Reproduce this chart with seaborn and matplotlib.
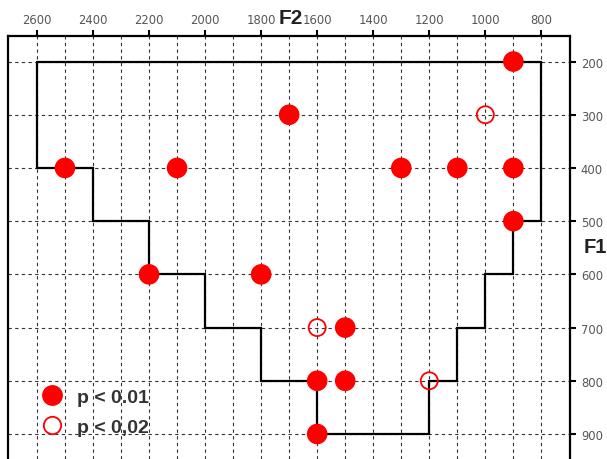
import numpy as np
import pandas as pd
import matplotlib.pyplot as plt
from matplotlib import font_manager
from matplotlib.font_manager import FontProperties
from matplotlib.lines import Line2D
import seaborn as sns

# significant points (F2, F1)
strong_f2 = [900, 1700, 2500, 2100, 1300, 1100, 900, 900, 2200, 1800, 1500, 1600, 1500, 1600]
strong_f1 = [200, 300, 400, 400, 400, 400, 400, 500, 600, 600, 700, 800, 800, 900]
weak_f2 = [1000, 1600, 1200]
weak_f1 = [300, 700, 800]

# outline of the region
poly_f2 = [2600, 800, 800, 900, 900, 1000, 1000, 1100, 1100, 1200, 1200, 1600, 1600,
           1800, 1800, 2000, 2000, 2200, 2200, 2400, 2400, 2600, 2600]
poly_f1 = [200, 200, 500, 500, 600, 600, 700, 700, 800, 800, 900, 900, 800,
           800, 700, 700, 600, 600, 500, 500, 400, 400, 200]

f2_ticks = list(range(800, 2601, 200))
f2_minor = list(range(900, 2600, 200))
f1_ticks = list(range(200, 901, 100))

sns.set_style("white")
plt.rcParams["font.family"] = ["Liberation Sans", "DejaVu Sans"]

# narrow face for tick numbers, if one is installed
narrow = None
for f in font_manager.fontManager.ttflist:
    if f.weight in (400, "normal", "regular") and f.style == "normal" and (
            "condensed" in str(f.stretch) or "Narrow" in f.name or "Condensed" in f.name):
        narrow = f.fname
        if "Sans" in f.name:
            break
if narrow:
    tick_font = FontProperties(fname=narrow, size=9.3)
else:
    tick_font = FontProperties(family="Liberation Sans", size=8.5)

df_strong = pd.DataFrame({"F2": strong_f2, "F1": strong_f1})
df_weak = pd.DataFrame({"F2": weak_f2, "F1": weak_f1})

fig = plt.figure(figsize=(6.07, 4.60), dpi=100)
ax = fig.add_axes([7.5 / 607, 0.0, (569.7 - 7.5) / 607, 1 - 37 / 460])

ax.plot(poly_f2, poly_f1, color="black", linewidth=1.6, zorder=3, solid_joinstyle="miter")

sns.scatterplot(data=df_strong, x="F2", y="F1", ax=ax, color="#ff0000", s=220,
                edgecolor="none", zorder=4, legend=False)
sns.scatterplot(data=df_weak, x="F2", y="F1", ax=ax, s=150, facecolor="none",
                edgecolor="#ff0000", linewidth=1.3, zorder=4, legend=False)

ax.set_xlim(2705, 699)
ax.set_ylim(947, 152)

ax.xaxis.tick_top()
ax.yaxis.tick_right()
ax.set_xticks(f2_ticks)
ax.set_xticks(f2_minor, minor=True)
ax.set_yticks(f1_ticks)
ax.tick_params(axis="x", which="major", direction="out", length=4, width=1.5,
               pad=3.5, labelcolor="#555555", color="black")
ax.tick_params(axis="x", which="minor", length=0)
ax.tick_params(axis="y", which="major", direction="out", length=4.5, width=1.5,
               pad=3.5, labelcolor="#555555", color="black")
for lab in ax.get_xticklabels() + ax.get_yticklabels():
    lab.set_fontproperties(tick_font)
ax.set_xlabel("")
ax.set_ylabel("")

ax.grid(True, which="both", color="#333333", linewidth=0.8, linestyle=(0, (3, 3)))
ax.set_axisbelow(True)

for side in ["left", "top", "right"]:
    ax.spines[side].set_visible(True)
    ax.spines[side].set_color("black")
    ax.spines[side].set_linewidth(1.6)
ax.spines["bottom"].set_visible(False)

fig.text(291 / 607, 1 - 19 / 460, "F2", fontsize=15, fontweight="bold",
         color="#222222", ha="center", va="center")
fig.text(595 / 607, 1 - 248 / 460, "F1", fontsize=14.5, fontweight="bold",
         color="#222222", ha="center", va="center")

handles = [
    Line2D([], [], marker="o", linestyle="none", markersize=15,
           markerfacecolor="#ff0000", markeredgecolor="none"),
    Line2D([], [], marker="o", linestyle="none", markersize=12.5,
           markerfacecolor="none", markeredgecolor="#ff0000", markeredgewidth=1.3),
]
leg = ax.legend(handles, ["p < 0.01", "p < 0,02"], loc="center left",
                bbox_to_anchor=(42 / 607, 1 - 413 / 460), bbox_transform=fig.transFigure,
                frameon=False, handlelength=1.0, handletextpad=0.8, labelspacing=0.62,
                borderpad=0, borderaxespad=0,
                prop={"family": "Liberation Sans", "weight": "bold", "size": 14})
for t in leg.get_texts():
    t.set_color("#333333")

fig.savefig("out.png", dpi=100)
plt.close(fig)
